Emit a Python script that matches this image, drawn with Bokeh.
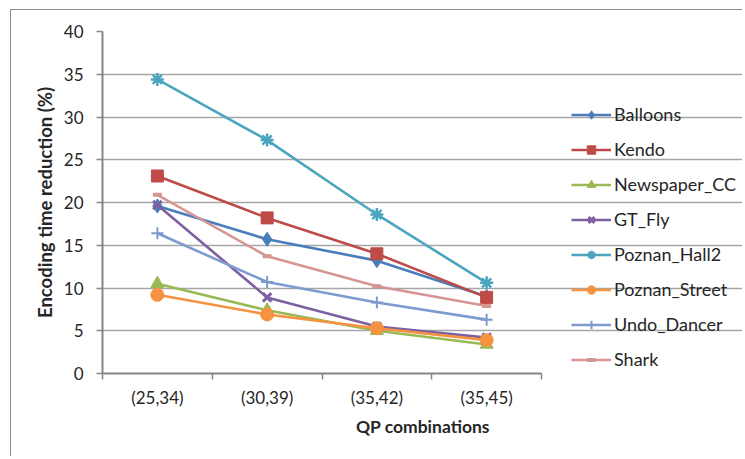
from bokeh.plotting import figure
from bokeh.models import FixedTicker, Legend, LegendItem, Range1d
from bokeh.embed import file_html
from bokeh.resources import INLINE

categories = ["(25,34)", "(30,39)", "(35,42)", "(35,45)"]
y_ticks = [0, 5, 10, 15, 20, 25, 30, 35, 40]

series_names = ["Balloons", "Kendo", "Newspaper_CC", "GT_Fly",
                "Poznan_Hall2", "Poznan_Street", "Undo_Dancer", "Shark"]
balloons = [19.6, 15.7, 13.2, 9.0]
kendo = [23.1, 18.2, 14.0, 8.9]
newspaper_cc = [10.5, 7.4, 5.0, 3.4]
gt_fly = [19.7, 8.9, 5.5, 4.2]
poznan_hall2 = [34.4, 27.3, 18.6, 10.6]
poznan_street = [9.2, 6.9, 5.3, 3.9]
undo_dancer = [16.4, 10.7, 8.3, 6.3]
shark = [20.9, 13.7, 10.2, 7.9]

series_values = [balloons, kendo, newspaper_cc, gt_fly,
                 poznan_hall2, poznan_street, undo_dancer, shark]
colors = ["#4A7EBB", "#BE4B48", "#98B954", "#7D60A0",
          "#4BA5BF", "#F69240", "#7F9ACF", "#D59593"]
markers = ["diamond", "square", "triangle", "x",
           "asterisk", "circle", "cross", "dash"]
msizes = [14, 12, 13, 12, 13, 13, 12, 9]
mlines = [1, 1, 1, 3, 2.5, 1, 2, 4]

FONT = "Lato"

# layout (pixels): figure placed at (11, 10) on the page after margin + border
W, H = 732, 447
LEFT, TOP, BOTTOM = 91, 21, 84
AXIS_W = 439                      # pixel length of the category axis
frame_w = W - LEFT
n = len(categories)
x_end = n * frame_w / AXIS_W      # frame extends right to host the legend

p = figure(width=W, height=H, output_backend="svg", toolbar_location=None,
           x_range=Range1d(0, x_end), y_range=Range1d(0, 40),
           min_border_left=LEFT, min_border_right=0, min_border_top=TOP,
           min_border_bottom=BOTTOM)
p.margin = (9, 0, 0, 10)
p.styles = {"border-left": "1px solid #8c8c8c", "border-top": "1px solid #8c8c8c"}
p.outline_line_color = None
p.background_fill_color = "white"
p.border_fill_color = "white"

xs = [i + 0.5 for i in range(n)]
items = []
for name, vals, col, mk, ms, ml in zip(series_names, series_values, colors,
                                        markers, msizes, mlines):
    r1 = p.line(xs, vals, line_color=col, line_width=2.6)
    r2 = p.scatter(xs, vals, marker=mk, size=ms, line_color=col,
                   line_width=ml, fill_color=col)
    items.append(LegendItem(label=name, renderers=[r1, r2]))

# x axis
xa = p.xaxis[0]
xa.bounds = (0, n)
xa.ticker = FixedTicker(ticks=xs, minor_ticks=list(range(n + 1)))
xa.major_label_overrides = {x: c for x, c in zip(xs, categories)}
xa.major_tick_out = 0
xa.major_tick_in = 0
xa.minor_tick_out = 6
xa.minor_tick_in = 0
xa.minor_tick_line_color = "#868686"
xa.minor_tick_line_width = 1.5
xa.axis_line_color = "#868686"
xa.axis_line_width = 2
xa.major_label_standoff = 7
xa.major_label_text_font = FONT
xa.major_label_text_font_size = "17px"
xa.major_label_text_color = "#262626"
xa.axis_label = "QP combinations"
xa.axis_label_text_font = FONT
xa.axis_label_text_font_style = "bold"
xa.axis_label_text_font_size = "17.5px"
xa.axis_label_text_color = "#262626"
xa.axis_label_standoff = 5
xa.axis_label_align = "center"

# y axis
ya = p.yaxis[0]
ya.ticker = FixedTicker(ticks=y_ticks)
ya.major_tick_out = 6
ya.major_tick_in = 0
ya.minor_tick_out = 0
ya.minor_tick_in = 0
ya.major_tick_line_color = "#868686"
ya.major_tick_line_width = 1.5
ya.axis_line_color = "#868686"
ya.axis_line_width = 2
ya.major_label_standoff = 13
ya.major_label_text_font = FONT
ya.major_label_text_font_size = "17px"
ya.major_label_text_color = "#262626"
ya.axis_label = "Encoding time reduction (%)"
ya.axis_label_text_font = FONT
ya.axis_label_text_font_style = "bold"
ya.axis_label_text_font_size = "18.5px"
ya.axis_label_text_color = "#262626"
ya.axis_label_standoff = 5

p.xgrid.grid_line_color = None
p.ygrid.ticker = FixedTicker(ticks=y_ticks)
p.ygrid.bounds = (0, n)
p.ygrid.grid_line_color = "#A6A6A6"
p.ygrid.grid_line_width = 1.3

legend = Legend(items=items, location=(469, 3))
legend.background_fill_alpha = 0
legend.border_line_color = None
legend.padding = 0
legend.margin = 0
legend.spacing = 13
legend.glyph_width = 40
legend.glyph_height = 21
legend.label_height = 21
legend.label_standoff = 3
legend.label_text_font = FONT
legend.label_text_font_size = "18px"
legend.label_text_color = "#262626"
p.add_layout(legend, "center")

with open("out.html", "w") as f:
    f.write(file_html(p, INLINE))
